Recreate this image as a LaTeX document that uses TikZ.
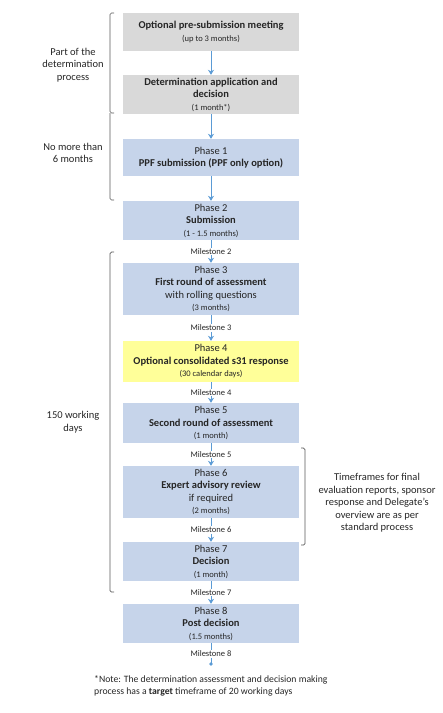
\documentclass[tikz,border=0pt]{standalone}
\usepackage{fontspec}
\setmainfont{Carlito}
\usepackage{tikz}
\usetikzlibrary{arrows.meta}

\definecolor{greyfill}{RGB}{217,217,217}
\definecolor{bluefill}{RGB}{198,212,234}
\definecolor{yellowfill}{RGB}{255,255,153}
\definecolor{flowblue}{RGB}{91,155,213}
\definecolor{bracketgrey}{RGB}{89,89,89}
\definecolor{txt}{RGB}{38,38,38}

\newcommand{\smalltxt}{\fontsize{8.5}{10}\selectfont}

\begin{document}
\begin{tikzpicture} [x=1pt, y=-1pt, font=\fontsize{10.5}{12.5}\selectfont,
  phase/.style={minimum width=176pt, inner sep=0pt, align=center, text=txt},
  greybox/.style={phase, fill=greyfill},
  bluebox/.style={phase, fill=bluefill},
  yellowbox/.style={phase, fill=yellowfill},
  flow/.style={draw=flowblue, line width=0.8pt, -{Stealth[length=5pt,width=6pt]}},
  mile/.style={fill=white, inner sep=1pt, text=txt, font=\fontsize{8.5}{10}\selectfont},
  brace/.style={draw=bracketgrey, line width=0.7pt, rounded corners=1.5pt},
  side/.style={align=center, text=txt}]
\useasboundingbox (0,0) rectangle (443,713);

% determination process
\node[greybox, minimum height=38pt] (pre) at (211,32) {\textbf{Optional pre-submission meeting}\\{\smalltxt(up to 3 months)}};
\node[greybox, minimum height=39pt] (det) at (211,94.5) {\textbf{Determination application and}\\\textbf{decision}\\{\smalltxt(1 month*)}};

% phases
\node[bluebox, minimum height=37pt] (ph1) at (211,157.5) {Phase 1\\\textbf{PPF submission (PPF only option)}};
\node[bluebox, minimum height=39pt] (ph2) at (211,220.5) {Phase 2\\\textbf{Submission}\\{\smalltxt(1 - 1.5 months)}};
\node[bluebox, minimum height=52pt] (ph3) at (211,289) {Phase 3\\\textbf{First round of assessment}\\with rolling questions\\{\smalltxt(3 months)}};
\node[yellowbox, minimum height=41pt] (ph4) at (211,361.5) {Phase 4\\\textbf{Optional consolidated s31 response}\\{\smalltxt(30 calendar days)}};
\node[bluebox, minimum height=40pt] (ph5) at (211,423) {Phase 5\\\textbf{Second round of assessment}\\{\smalltxt(1 month)}};
\node[bluebox, minimum height=52pt] (ph6) at (211,492) {Phase 6\\\textbf{Expert advisory review}\\if required\\{\smalltxt(2 months)}};
\node[bluebox, minimum height=39pt] (ph7) at (211,561.5) {Phase 7\\\textbf{Decision}\\{\smalltxt(1 month)}};
\node[bluebox, minimum height=39pt] (ph8) at (211,623.5) {Phase 8\\\textbf{Post decision}\\{\smalltxt(1.5 months)}};
\coordinate (finish) at (211,664);

% connectors
\draw[flow] (pre) -- (det);
\draw[flow] (det) -- (ph1);
\draw[flow] (ph1) -- (ph2);
\foreach \a/\b/\m in {ph2/ph3/2, ph3/ph4/3, ph4/ph5/4, ph5/ph6/5, ph6/ph7/6, ph7/ph8/7}
\draw[flow] (\a) -- node[mile] {Milestone \m} (\b);
\draw[draw=flowblue, line width=0.8pt] (ph8) -- node[mile] {Milestone 8} (finish);
\fill[flowblue] (finish) circle (1.8pt);

% brackets
\draw[brace] (114,13) -- (110,13) -- (110,113) -- (114,113);
\draw[brace] (110,113) -- (110,200) -- (114,200);
\draw[brace] (114,252) -- (110,252) -- (110,592) -- (114,592);
\draw[brace] (301,448) -- (305,448) -- (305,545) -- (301,545);

\node[side] (partof) at (73,65) {Part of the\\determination\\process};
\node[side] (sixmonths) at (73,153) {No more than\\6 months};
\node[side] (workdays) at (73,422) {150 working\\days};
\node[side] (timeframes) at (377,503) {Timeframes for final\\evaluation reports, sponsor\\response and Delegate's\\overview are as per\\standard process};

\node[anchor=north west, align=left, text=txt, inner sep=0pt, font=\fontsize{9.7}{12}\selectfont] (note) at (94,675) {*Note: The determination assessment and decision making\\process has a \textbf{target} timeframe of 20 working days};

\end{tikzpicture}
\end{document}
